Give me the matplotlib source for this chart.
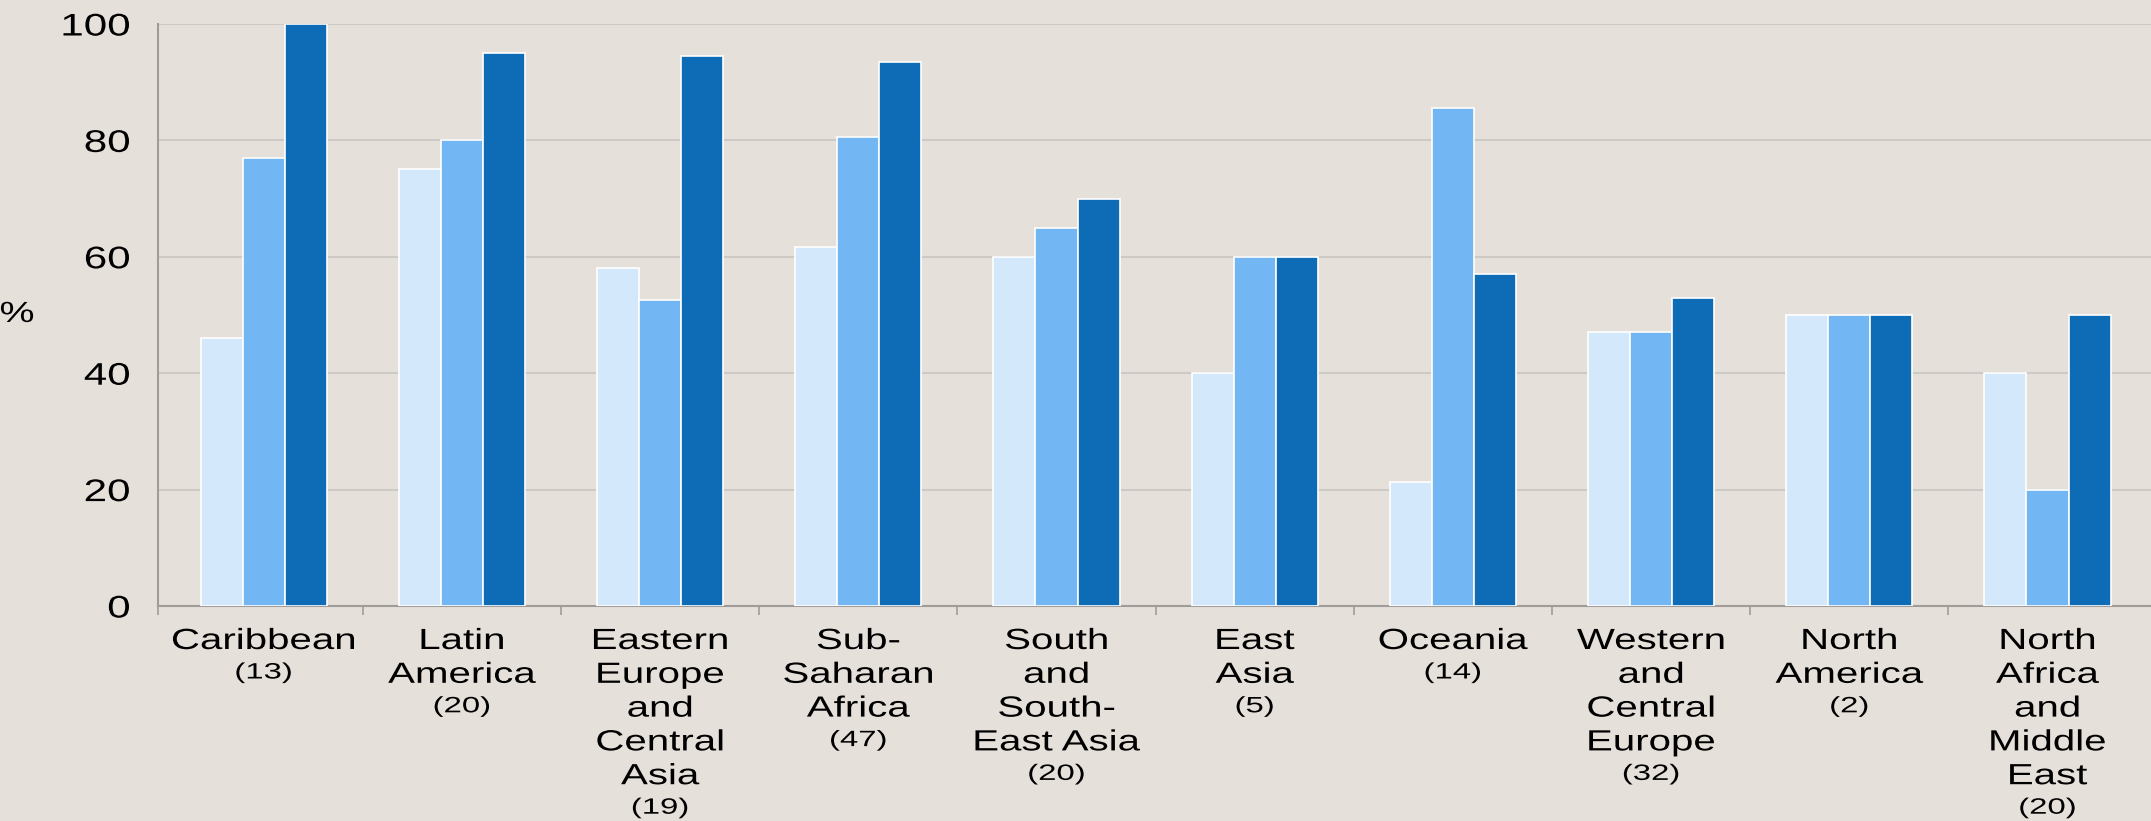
import numpy as np
import matplotlib
matplotlib.use("Agg")
import matplotlib.pyplot as plt
from matplotlib.patheffects import AbstractPathEffect
from matplotlib.transforms import Affine2D

# ---- data ----
regions = ["Caribbean", "Latin\nAmerica", "Eastern\nEurope\nand\nCentral\nAsia",
           "Sub-\nSaharan\nAfrica", "South\nand\nSouth-\nEast Asia", "East\nAsia",
           "Oceania", "Western\nand\nCentral\nEurope", "North\nAmerica",
           "North\nAfrica\nand\nMiddle\nEast"]
counts = ["(13)", "(20)", "(19)", "(47)", "(20)", "(5)", "(14)", "(32)", "(2)", "(20)"]
series_a = [46, 75, 58, 61.6, 60, 40, 21.3, 47, 50, 40]
series_b = [77, 80, 52.5, 80.5, 65, 60, 85.5, 47, 50, 20]
series_c = [100, 95, 94.5, 93.5, 70, 60, 57, 53, 50, 50]
yticks = [0, 20, 40, 60, 80, 100]

BG = "#E6E0DB"
COLORS = ["#D4E8FB", "#72B7F3", "#0E6CB6"]
FONT = "Liberation Sans"


class HStretch(AbstractPathEffect):
    def __init__(self, sx, anchor=0.5):
        super().__init__()
        self.sx = sx
        self.anchor = anchor

    def draw_path(self, renderer, gc, tpath, affine, rgbFace=None):
        ext = tpath.get_extents()
        cx = ext.x0 + (ext.x1 - ext.x0) * self.anchor
        t = Affine2D().translate(-cx, 0).scale(self.sx, 1).translate(cx, 0) + affine
        renderer.draw_path(gc, tpath, t, rgbFace)


fig = plt.figure(figsize=(21.51, 8.21), dpi=100, facecolor=BG)
ax = fig.add_axes([158 / 2151, 1 - 606 / 821, 1 - 158 / 2151, (606 - 24) / 821])
ax.set_facecolor(BG)

x = np.arange(len(regions))
w = 0.212
for k, (vals, col) in enumerate(zip([series_a, series_b, series_c], COLORS)):
    ax.bar(x + (k - 1) * w, vals, width=w, color=col, edgecolor="white",
           linewidth=1.2, zorder=3)

xl = -0.5 - 6.6 / 198.2
ax.set_xlim(xl, 9.5 + 4.4 / 198.2)
ax.set_ylim(0, 100)
ax.set_yticks(yticks)
ax.yaxis.grid(True, color="#CDC9C5", linewidth=1.5, zorder=0)
ax.set_axisbelow(True)
for s in ["top", "right"]:
    ax.spines[s].set_visible(False)
ax.spines["left"].set_color("#A09C98")
ax.spines["left"].set_linewidth(1.5)
ax.spines["bottom"].set_color("#A09C98")
ax.spines["bottom"].set_linewidth(1.5)

ax.set_xticks([])
ax.set_xticks([xl] + list(np.arange(0.5, 9.0, 1.0)), minor=True)
ax.tick_params(axis="x", which="minor", length=6.5, width=1.2, color="#A09C98",
               direction="out")
ax.tick_params(axis="y", length=0, pad=20)
for lab in ax.get_yticklabels():
    lab.set_fontfamily(FONT)
    lab.set_fontsize(22.5)
    lab.set_path_effects([HStretch(1.35, anchor=1.0)])

# category labels, drawn line by line
first_base = 649 - 606
step = 33.8
for i, (name, cnt) in enumerate(zip(regions, counts)):
    lines = name.split("\n")
    for j, ln in enumerate(lines):
        t = ax.annotate(ln, xy=(i, 0), xycoords=("data", "axes fraction"),
                        xytext=(0, -(first_base + step * j)), textcoords="offset pixels",
                        ha="center", va="baseline", fontsize=21, family=FONT,
                        color="black", annotation_clip=False)
        t.set_path_effects([HStretch(1.38)])
    t = ax.annotate(cnt, xy=(i, 0), xycoords=("data", "axes fraction"),
                    xytext=(0, -(first_base + step * (len(lines) - 1) + 29.5)),
                    textcoords="offset pixels", ha="center", va="baseline",
                    fontsize=16, family=FONT, color="black", annotation_clip=False)
    t.set_path_effects([HStretch(1.48)])

pct = fig.text(17 / 2151, 1 - 314 / 821, "%", ha="center", va="center",
               fontsize=21, family=FONT)
pct.set_path_effects([HStretch(1.35)])

fig.savefig("out.png", dpi=100, facecolor=BG)
